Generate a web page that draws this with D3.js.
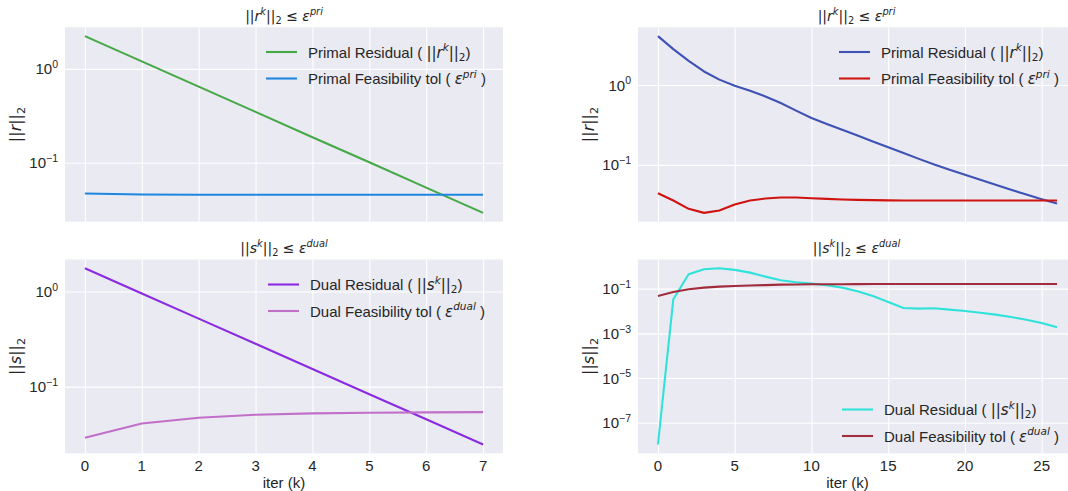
<!DOCTYPE html>
<html>
<head>
<meta charset="utf-8">
<script src="https://cdn.jsdelivr.net/npm/d3@7"></script>
<style>
  html, body { margin: 0; padding: 0; background: #ffffff; }
  svg { display: block; }
</style>
</head>
<body>
<svg id="chart" width="1068" height="491"></svg>
<script>
// ---------------- DATA ----------------
const leftIter = [0, 1, 2, 3, 4, 5, 6, 7];
const leftPrimalResidual = [2.23, 1.20, 0.646, 0.348, 0.187, 0.101, 0.0542, 0.0292];
const leftPrimalTol = [0.0470, 0.0458, 0.0456, 0.0455, 0.0455, 0.0455, 0.0455, 0.0455];
const leftDualResidual = [1.75, 0.952, 0.518, 0.282, 0.153, 0.0834, 0.0454, 0.0247];
const leftDualTol = [0.0290, 0.0411, 0.0472, 0.0507, 0.0524, 0.0532, 0.0537, 0.0540];

const rightIter = [0, 1, 2, 3, 4, 5, 6, 7, 8, 9, 10, 11, 12, 13, 14, 15, 16, 17, 18, 19, 20, 21, 22, 23, 24, 25, 26];
const rightPrimalResidual = [4.1, 2.82, 2.01, 1.48, 1.17, 0.98, 0.85, 0.72, 0.596, 0.478, 0.387,
  0.326, 0.275, 0.233, 0.197, 0.166, 0.141, 0.119, 0.101, 0.0873, 0.0755, 0.0653, 0.0565, 0.0489, 0.0425, 0.0372, 0.0328];
const rightPrimalTol = [0.0442, 0.0358, 0.0282, 0.0251, 0.0269, 0.0319, 0.0358, 0.0379, 0.0391, 0.0391, 0.0383,
  0.0376, 0.0369, 0.0365, 0.0362, 0.0360, 0.0358, 0.0358, 0.0358, 0.0358, 0.0358, 0.0358, 0.0358, 0.0358, 0.0358, 0.0358, 0.0358];
const rightDualResidual = [1.07e-8, 0.0333, 0.44, 0.73, 0.81, 0.69, 0.52, 0.344, 0.236, 0.192, 0.168,
  0.141, 0.111, 0.076, 0.047, 0.0253, 0.0136, 0.0127, 0.0132, 0.0115, 0.0100, 0.0084, 0.00685, 0.00539, 0.00409, 0.00290, 0.00186];
const rightDualTol = [0.047, 0.071, 0.093, 0.111, 0.123, 0.132, 0.138, 0.144, 0.151, 0.154, 0.156,
  0.157, 0.158, 0.159, 0.160, 0.161, 0.161, 0.162, 0.162, 0.162, 0.162, 0.162, 0.162, 0.162, 0.162, 0.162, 0.162];

const leftXTicks = [0, 1, 2, 3, 4, 5, 6, 7];
const rightXTicks = [0, 5, 10, 15, 20, 25];
const topYExponents = [-1, 0];
const bottomLeftYExponents = [-1, 0];
const bottomRightYExponents = [-7, -5, -3, -1];

// ---------------- STYLE / LAYOUT ----------------
const BG = "#eaeaf2";
const TEXT = "#262626";
const SANS = "'Liberation Sans', Arial, sans-serif";
const MATH = "'DejaVu Sans', sans-serif";
const FS = 15;
const TITLE_FS = 14;
const YLABEL_FS = 16;
const LW = 2.1;

const svg = d3.select("#chart");

// text with math-like runs: parts = [{t, math, it, sup, sub}]
function richText(g, parts, size) {
  g.attr("font-size", size).attr("font-family", SANS);
  let cur = 0;
  parts.forEach(p => {
    const target = p.sup ? -0.42 * size : (p.sub ? 0.22 * size : 0);
    const ts = g.append("tspan")
      .attr("font-family", p.math ? MATH : SANS)
      .attr("font-size", (p.sup || p.sub) ? size * 0.7 : size)
      .attr("font-style", p.it ? "italic" : "normal")
      .text(p.t);
    if (target !== cur) { ts.attr("dy", target - cur); cur = target; }
  });
}

const primalTitle = [{t:"||", math:true}, {t:"r", math:true, it:true}, {t:"k", math:true, it:true, sup:true}, {t:"||", math:true}, {t:"2", math:true, sub:true}, {t:" \u2264 ", math:true}, {t:"\u03b5", math:true, it:true}, {t:"pri", math:true, it:true, sup:true}];
const dualTitle = [{t:"||", math:true}, {t:"s", math:true, it:true}, {t:"k", math:true, it:true, sup:true}, {t:"||", math:true}, {t:"2", math:true, sub:true}, {t:" \u2264 ", math:true}, {t:"\u03b5", math:true, it:true}, {t:"dual", math:true, it:true, sup:true}];
const rLabel = [{t:"||", math:true}, {t:"r", math:true, it:true}, {t:"||", math:true}, {t:"2", math:true, sub:true}];
const sLabel = [{t:"||", math:true}, {t:"s", math:true, it:true}, {t:"||", math:true}, {t:"2", math:true, sub:true}];
const primalLegend = [
  [{t:"Primal Residual ( "}, {t:"||", math:true}, {t:"r", math:true, it:true}, {t:"k", math:true, it:true, sup:true}, {t:"||", math:true}, {t:"2", math:true, sub:true}, {t:")"}],
  [{t:"Primal Feasibility tol ( "}, {t:"\u03b5", math:true, it:true}, {t:"pri", math:true, it:true, sup:true}, {t:" )"}]
];
const dualLegend = [
  [{t:"Dual Residual ( "}, {t:"||", math:true}, {t:"s", math:true, it:true}, {t:"k", math:true, it:true, sup:true}, {t:"||", math:true}, {t:"2", math:true, sub:true}, {t:")"}],
  [{t:"Dual Feasibility tol ( "}, {t:"\u03b5", math:true, it:true}, {t:"dual", math:true, it:true, sup:true}, {t:" )"}]
];

const panels = [
  {
    box: { x0: 65, x1: 503, y0: 27.3, y1: 221.7 },
    xs: leftIter, xTicks: leftXTicks, yExp: topYExponents, showX: false,
    series: [ { v: leftPrimalResidual, color: "#47a847" }, { v: leftPrimalTol, color: "#1f86e0" } ],
    title: primalTitle, ylabel: rLabel,
    legend: { x: 266, y: 52, dy: 26.5, items: primalLegend }
  },
  {
    box: { x0: 65, x1: 503, y0: 259.5, y1: 453.3 },
    xs: leftIter, xTicks: leftXTicks, yExp: bottomLeftYExponents, showX: true,
    series: [ { v: leftDualResidual, color: "#8a2be2" }, { v: leftDualTol, color: "#c070c8" } ],
    title: dualTitle, ylabel: sLabel,
    legend: { x: 268, y: 284.5, dy: 26.5, items: dualLegend }
  },
  {
    box: { x0: 638, x1: 1077, y0: 27.3, y1: 221.7 },
    xs: rightIter, xTicks: rightXTicks, yExp: topYExponents, showX: false,
    series: [ { v: rightPrimalResidual, color: "#3f51b5" }, { v: rightPrimalTol, color: "#cf1410" } ],
    title: primalTitle, ylabel: rLabel,
    legend: { x: 839, y: 52, dy: 26.5, items: primalLegend }
  },
  {
    box: { x0: 638, x1: 1077, y0: 259.5, y1: 453.3 },
    xs: rightIter, xTicks: rightXTicks, yExp: bottomRightYExponents, showX: true,
    series: [ { v: rightDualResidual, color: "#30e2da" }, { v: rightDualTol, color: "#a02c3c" } ],
    title: dualTitle, ylabel: sLabel,
    legend: { x: 842, y: 409.5, dy: 26.5, items: dualLegend }
  }
];

panels.forEach((p, i) => {
  const b = p.box;
  const xMin = d3.min(p.xs), xMax = d3.max(p.xs), xPad = (xMax - xMin) * 0.05;
  const x = d3.scaleLinear().domain([xMin - xPad, xMax + xPad]).range([b.x0, b.x1]);
  const all = p.series.flatMap(s => s.v);
  const lmin = Math.log10(d3.min(all)), lmax = Math.log10(d3.max(all)), lpad = (lmax - lmin) * 0.05;
  const y = d3.scaleLog().domain([Math.pow(10, lmin - lpad), Math.pow(10, lmax + lpad)]).range([b.y1, b.y0]);

  const clipId = "clip" + i;
  svg.append("clipPath").attr("id", clipId).append("rect")
    .attr("x", b.x0).attr("y", b.y0).attr("width", b.x1 - b.x0).attr("height", b.y1 - b.y0);

  const g = svg.append("g");
  g.append("rect").attr("x", b.x0).attr("y", b.y0).attr("width", b.x1 - b.x0).attr("height", b.y1 - b.y0).attr("fill", BG);

  // grid via axes
  const yTickVals = p.yExp.map(e => Math.pow(10, e));
  const gx = g.append("g").attr("transform", `translate(0,${b.y1})`)
    .call(d3.axisBottom(x).tickValues(p.xTicks).tickSize(-(b.y1 - b.y0)).tickFormat(""));
  gx.select(".domain").remove();
  gx.selectAll(".tick line").attr("stroke", "#ffffff").attr("stroke-width", 1.1);
  const gy = g.append("g").attr("transform", `translate(${b.x0},0)`)
    .call(d3.axisLeft(y).tickValues(yTickVals).tickSize(-(b.x1 - b.x0)).tickFormat(""));
  gy.select(".domain").remove();
  gy.selectAll(".tick line").attr("stroke", "#ffffff").attr("stroke-width", 1.1);

  // lines
  const line = d3.line().x((d, j) => x(p.xs[j])).y(d => y(d));
  p.series.forEach(s => {
    g.append("path").datum(s.v).attr("d", line).attr("fill", "none")
      .attr("stroke", s.color).attr("stroke-width", LW).attr("stroke-linejoin", "round")
      .attr("clip-path", `url(#${clipId})`);
  });

  // y tick labels
  p.yExp.forEach(e => {
    const t = g.append("text").attr("x", b.x0 - 7).attr("y", y(Math.pow(10, e)) + 5.5)
      .attr("text-anchor", "end").attr("fill", TEXT);
    const ex = e < 0 ? "\u2212" + Math.abs(e) : String(e);
    richText(t, [{t:"10"}, {t: ex, sup:true}], FS);
  });

  // x tick labels
  if (p.showX) {
    p.xTicks.forEach(v => {
      g.append("text").attr("x", x(v)).attr("y", b.y1 + 18).attr("text-anchor", "middle")
        .attr("font-family", SANS).attr("font-size", FS).attr("fill", TEXT).text(v);
    });
    g.append("text").attr("x", (b.x0 + b.x1) / 2 - (i === 3 ? 10 : 0)).attr("y", b.y1 + 34.5)
      .attr("text-anchor", "middle").attr("font-family", SANS).attr("font-size", FS)
      .attr("fill", TEXT).text("iter (k)");
  }

  // title
  const tt = g.append("text").attr("x", (b.x0 + b.x1) / 2 - (i >= 2 ? 1 : 0)).attr("y", b.y0 - 6.5)
    .attr("text-anchor", "middle").attr("fill", TEXT);
  richText(tt, p.title, TITLE_FS);

  // y label
  const ylx = b.x0 - 44, yly = (b.y0 + b.y1) / 2;
  const yl = g.append("text").attr("transform", `translate(${ylx},${yly}) rotate(-90)`)
    .attr("text-anchor", "middle").attr("fill", TEXT);
  richText(yl, p.ylabel, YLABEL_FS);

  // legend
  const L = p.legend;
  L.items.forEach((parts, k) => {
    const yy = L.y + k * L.dy;
    g.append("line").attr("x1", L.x).attr("x2", L.x + 31).attr("y1", yy).attr("y2", yy)
      .attr("stroke", p.series[k].color).attr("stroke-width", LW);
    const lt = g.append("text").attr("x", L.x + 42).attr("y", yy + 5.5).attr("fill", TEXT);
    richText(lt, parts, FS);
  });
});
</script>
</body>
</html>
